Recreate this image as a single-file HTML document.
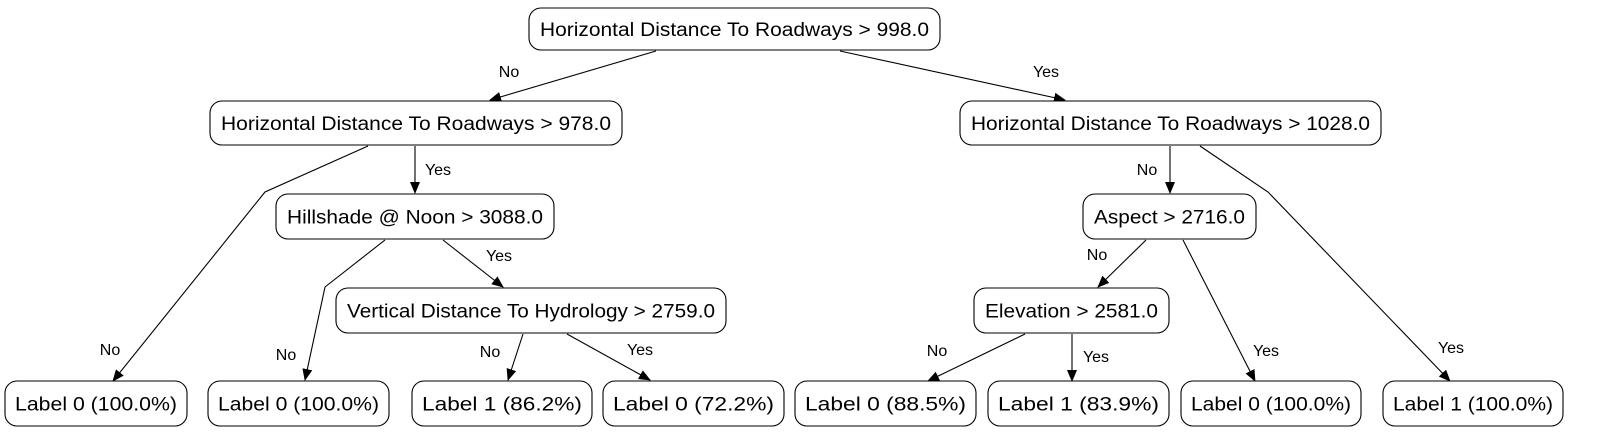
<!DOCTYPE html>
<html><head><meta charset="utf-8"><style>
html,body{margin:0;padding:0;background:#fff;}
svg{display:block;}
text{font-family:"Liberation Sans",sans-serif;fill:#000;}
.n{font-size:19px;}
.e{font-size:16px;}
rect{fill:#fff;stroke:#000;stroke-width:1.1;}
.ed{fill:none;stroke:#000;stroke-width:1.1;}
</style></head><body>
<svg id="tree" width="1601" height="443" viewBox="0 0 1601 443" xmlns="http://www.w3.org/2000/svg">
<defs><marker id="ar" markerWidth="12" markerHeight="10" refX="11" refY="5" orient="auto" markerUnits="userSpaceOnUse"><path d="M0,0 L12,5 L0,10 z" fill="#000"/></marker></defs>
<g id="edges"></g>
<g id="nodes"></g>
</svg>
<script>
const nodeLabels=["Horizontal Distance To Roadways > 998.0","Horizontal Distance To Roadways > 978.0","Horizontal Distance To Roadways > 1028.0","Hillshade @ Noon > 3088.0","Aspect > 2716.0","Vertical Distance To Hydrology > 2759.0","Elevation > 2581.0","Label 0 (100.0%)","Label 0 (100.0%)","Label 1 (86.2%)","Label 0 (72.2%)","Label 0 (88.5%)","Label 1 (83.9%)","Label 0 (100.0%)","Label 1 (100.0%)"];
const boxes=[[529,8,940,50],[210,101,622,145],[960,101,1381,145],[276,194,554,239],[1083,194,1256,239],[336,288,726,333],[974,288,1169,333],[5,381,187,426],[208,381,389,426],[412,381,592,426],[603,381,784,426],[795,381,976,426],[988,381,1169,426],[1181,381,1361,426],[1383,381,1563,426]];
const edges=[
 ["No",[[656,51],[490,100]],[509,77]],
 ["Yes",[[840,51],[1065,100]],[1046,77]],
 ["No",[[368,146],[265,192],[113,381]],[110,355]],
 ["Yes",[[415,146],[415,193]],[438,175]],
 ["No",[[385,240],[325,287],[305,380]],[286,360]],
 ["Yes",[[443,240],[503,287]],[499,261]],
 ["No",[[523,334],[508,380]],[490,357]],
 ["Yes",[[567,334],[650,380]],[640,355]],
 ["No",[[1170,146],[1170,193]],[1147,175]],
 ["Yes",[[1200,146],[1268,192],[1450,381]],[1451,353]],
 ["No",[[1146,240],[1098,287]],[1097,260]],
 ["Yes",[[1183,240],[1255,381]],[1266,356]],
 ["No",[[1025,334],[928,381]],[937,356]],
 ["Yes",[[1072,334],[1072,381]],[1096,362]]
];
const NS="http://www.w3.org/2000/svg";
const ge=document.getElementById('edges'),gn=document.getElementById('nodes');
edges.forEach((e,i)=>{
 const p=document.createElementNS(NS,'polyline');
 p.setAttribute('points',e[1].map(q=>q.join(',')).join(' '));
 p.setAttribute('class','ed');p.setAttribute('marker-end','url(#ar)');
 
 
 ge.appendChild(p);
 const t=document.createElementNS(NS,'text');
 t.setAttribute('x',e[2][0]);t.setAttribute('y',e[2][1]);t.setAttribute('class','e');t.setAttribute('text-anchor','middle');
 t.textContent=e[0];
 
 
 ge.appendChild(t);
});
nodeLabels.forEach((l,i)=>{
 const b=boxes[i];
 const g=document.createElementNS(NS,'g');
 
 
 const r=document.createElementNS(NS,'rect');
 r.setAttribute('x',b[0]);r.setAttribute('y',b[1]);r.setAttribute('width',b[2]-b[0]);r.setAttribute('height',b[3]-b[1]);r.setAttribute('rx',12);
 g.appendChild(r);
 const t=document.createElementNS(NS,'text');
 t.setAttribute('x',(b[0]+b[2])/2);t.setAttribute('y',(b[1]+b[3])/2+7);t.setAttribute('text-anchor','middle');t.setAttribute('class','n');
 t.setAttribute('textLength',(b[2]-b[0])-(i<7?22:20));
 t.setAttribute('lengthAdjust','spacingAndGlyphs');
 t.textContent=l;
 
 
 g.appendChild(t);
 gn.appendChild(g);
});
</script>
</body></html>
